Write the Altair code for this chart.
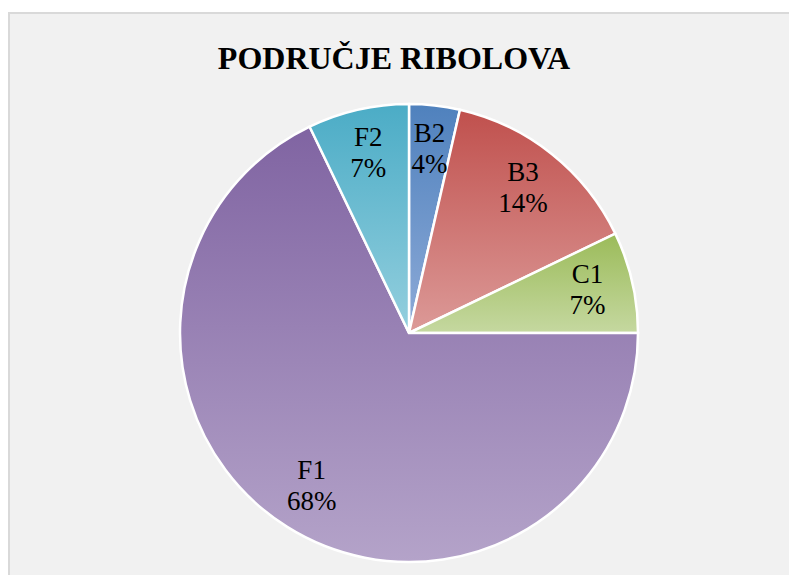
import altair as alt
import pandas as pd

# ---- data ----
categories = ["B2", "B3", "C1", "F1", "F2"]
counts = [1, 4, 2, 19, 2]
top_colors = ["#4f81bd", "#c0504d", "#9bbb59", "#8064a2", "#4bacc6"]
bottom_colors = ["#8eabd8", "#dc9a98", "#c5d8a0", "#b4a3c9", "#94cfde"]
title_text = "PODRUČJE RIBOLOVA"

total = sum(counts)
starts, ends = [], []
acc = 0
for c in counts:
    starts.append(acc)
    acc += c
    ends.append(acc)

df = pd.DataFrame({
    "cat": categories,
    "count": counts,
    "start": starts,
    "end": ends,
})
df["mid"] = (df["start"] + df["end"]) / 2
df["label"] = [f"{c}\n{round(v / total * 100)}%" for c, v in zip(categories, counts)]

FONT = "Liberation Serif"
CX, CY = 400, 320
R = 229
W, H = 780, 562

theta_scale = alt.Scale(domain=[0, total])

layers = []
for cat, c0, c1 in zip(categories, top_colors, bottom_colors):
    grad = alt.LinearGradient(
        gradient="linear",
        stops=[alt.GradientStop(color=c0, offset=0), alt.GradientStop(color=c1, offset=1)],
        x1=0, x2=0, y1=0, y2=1,
    )
    layer = (
        alt.Chart(df)
        .transform_filter(alt.datum.cat == cat)
        .mark_arc(fill=grad, stroke="white", strokeWidth=2.5, outerRadius=R)
        .encode(
            theta=alt.Theta("start:Q", scale=theta_scale),
            theta2="end:Q",
            x=alt.value(CX),
            y=alt.value(CY),
        )
    )
    layers.append(layer)

labels = (
    alt.Chart(df)
    .mark_text(radius=183, font=FONT, fontSize=27, lineBreak="\n", lineHeight=31, dy=-17,
               align="center", baseline="middle", color="#000000")
    .encode(
        theta=alt.Theta("mid:Q", scale=theta_scale),
        text="label:N",
        x=alt.value(CX),
        y=alt.value(CY),
    )
)

title = (
    alt.Chart(pd.DataFrame({"t": [title_text]}))
    .mark_text(font=FONT, fontSize=32, fontWeight="bold", align="center",
               baseline="alphabetic", color="#000000")
    .encode(text="t:N", x=alt.value(385), y=alt.value(56))
)

chart = (
    alt.layer(*layers, labels, title)
    .properties(width=W, height=H, padding={"left": 1, "top": 5, "right": 0, "bottom": 0},
                autosize=alt.AutoSizeParams(type="none"), background="white")
    .configure_view(fill="#f1f1f1", stroke="#d9d9d9", strokeWidth=2,
                    strokeDash=[W, W + H, H, 1])
)

chart.save("out.html", embed_options={"renderer": "svg", "actions": False})
